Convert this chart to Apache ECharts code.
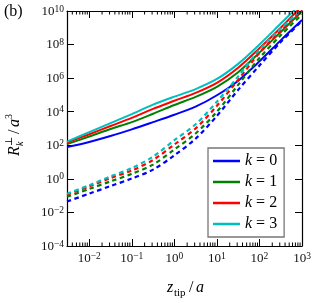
<!DOCTYPE html>
<html><head><meta charset="utf-8">
<script src="https://cdn.jsdelivr.net/npm/echarts@6/dist/echarts.min.js"></script>
<style>html,body{margin:0;padding:0;background:#fff}#c{width:320px;height:303px}</style>
</head><body><div id="c"></div>
<script>
const F = "'Liberation Serif','DejaVu Serif',serif";
// x values (z_tip / a)
const zTip = [0.003, 0.01, 0.0316, 0.1, 0.316, 1, 3.16, 10, 31.6, 100, 316, 1000];
// solid curves
const k0Solid = [77.6, 158, 355, 891, 2400, 6610, 20000, 95500, 708000, 1e7, 1.78e8, 2.88e9];
const k1Solid = [117, 331, 933, 2400, 7590, 25100, 75900, 302000, 2.24e6, 3.31e7, 5.62e8, 9.55e9];
const k2Solid = [145, 457, 1410, 4270, 14800, 44700, 132000, 525000, 4.17e6, 6.03e7, 1e9, 2.0e10];
const k3Solid = [166, 603, 2090, 7240, 26300, 79400, 224000, 891000, 7.08e6, 1e8, 1.78e9, 3.16e10];
// dashed curves
const k0Dashed = [0.0447, 0.132, 0.372, 1.05, 3.55, 25.1, 251, 5620, 200000, 5.62e6, 1.41e8, 2.51e9];
const k1Dashed = [0.0851, 0.251, 0.708, 2.0, 7.08, 56.2, 501, 10000, 398000, 1.58e7, 3.55e8, 6.31e9];
const k2Dashed = [0.112, 0.355, 1.12, 3.16, 13.2, 112, 1000, 22400, 794000, 3.16e7, 6.31e8, 1.12e10];
const k3Dashed = [0.129, 0.417, 1.41, 4.37, 20.9, 200, 1780, 39800, 1.26e6, 5.01e7, 8.91e8, 1.26e10];
const names = ['k = 0', 'k = 1', 'k = 2', 'k = 3'];
const colors = ['#0000ff', '#008000', '#ff0000', '#00bfbf'];
const xMin = 0.003, xMax = 1000, yMin = 1e-4, yMax = 1e10;

const minorTicks = [];
for (let n = -3; n <= 2; n++) for (let m = 2; m <= 9; m++) {
  const v = m * Math.pow(10, n);
  if (v > xMin && v < xMax) minorTicks.push([v, 1]);
}

function pow10Label(v) {
  const e = Math.log10(v);
  const r = Math.round(e);
  if (Math.abs(e - r) > 1e-6) return '';
  return '{b|10}{s|' + (r < 0 ? '\u2212' + (-r) : r) + '}';
}
const labRich = {
  b: {fontSize: 13, fontFamily: F, color: '#111', lineHeight: 14, verticalAlign: 'bottom'},
  s: {fontSize: 9.5, fontFamily: F, color: '#111', lineHeight: 10, verticalAlign: 'top', padding: [0, 0, 9, 0]}
};

function mk(data) { return zTip.map((x, i) => [x, data[i]]); }
const solid = [k0Solid, k1Solid, k2Solid, k3Solid];
const dashed = [k0Dashed, k1Dashed, k2Dashed, k3Dashed];
const series = [];
dashed.forEach((d, i) => series.push({
  type: 'line', name: names[i] + ' dashed', data: mk(d), symbol: 'none', smooth: 0.3,
  lineStyle: {color: colors[i], width: 2.2, type: [4.5, 3.5]}, z: 3
}));
solid.forEach((d, i) => series.push({
  type: 'line', name: names[i], data: mk(d), symbol: 'none', smooth: 0.3,
  lineStyle: {color: colors[i], width: 2}, itemStyle: {color: colors[i]}, z: 2
}));
series.push({
  type: 'custom', data: minorTicks, silent: true, clip: false, z: 5,
  renderItem: function (params, api) {
    const v = api.value(0);
    const pb = api.coord([v, yMin]);
    const pt = api.coord([v, yMax]);
    return {type: 'group', children: [
      {type: 'line', shape: {x1: pb[0], y1: pb[1], x2: pb[0], y2: pb[1] - 3.5}, style: {stroke: '#000', lineWidth: 1}},
      {type: 'line', shape: {x1: pt[0], y1: pt[1], x2: pt[0], y2: pt[1] + 3.5}, style: {stroke: '#000', lineWidth: 1}}
    ]};
  }
});

const axLine = {show: true, lineStyle: {color: '#000', width: 1.2}};
const chart = echarts.init(document.getElementById('c'), null, {renderer: 'canvas'});
const T = (text, x, y, font) => ({type: 'text', x: x, y: y, style: {text: text, font: font, fill: '#000', verticalAlign: 'middle'}});
chart.setOption({
  animation: false,
  backgroundColor: '#fff',
  grid: {left: 67, top: 11, width: 235, height: 235, containLabel: false},
  xAxis: [
    {type: 'log', min: xMin, max: xMax, position: 'bottom', axisLine: axLine,
     axisTick: {inside: true, length: 7, lineStyle: {color: '#000', width: 1}},
     axisLabel: {formatter: pow10Label, rich: labRich, margin: 5, showMinLabel: true},
     splitLine: {show: false}},
    {type: 'log', min: xMin, max: xMax, position: 'top', axisLine: axLine,
     axisTick: {inside: true, length: 7, lineStyle: {color: '#000', width: 1}},
     axisLabel: {show: false}, splitLine: {show: false}}
  ],
  yAxis: [
    {type: 'log', min: yMin, max: yMax, interval: 2, position: 'left', axisLine: axLine,
     axisTick: {inside: true, length: 7, lineStyle: {color: '#000', width: 1}},
     axisLabel: {formatter: pow10Label, rich: labRich, margin: 3},
     splitLine: {show: false}},
    {type: 'log', min: yMin, max: yMax, interval: 2, position: 'right', axisLine: axLine,
     axisTick: {inside: true, length: 7, lineStyle: {color: '#000', width: 1}},
     axisLabel: {show: false}, splitLine: {show: false}}
  ],
  legend: {
    data: names, orient: 'vertical', left: 208, top: 148,
    icon: 'rect', itemWidth: 27, itemHeight: 2.5, itemGap: 5,
    padding: [5, 7, 5, 5],
    backgroundColor: '#fff', borderColor: '#777', borderWidth: 1.3, borderRadius: 0,
    formatter: function (n) { return '{i|k}{n|' + n.slice(1) + '}'; },
    textStyle: {rich: {
      i: {fontFamily: F, fontStyle: 'italic', fontSize: 16, lineHeight: 15, color: '#000'},
      n: {fontFamily: F, fontSize: 16, lineHeight: 15, color: '#000'}
    }}
  },
  graphic: [
    {type: 'text', left: 4, top: 4, style: {text: '(b)', font: '16px ' + F, fill: '#000'}},
    {type: 'group', x: 167, y: 288, children: [
      T('z', 0, 0, 'italic 16px ' + F),
      T('tip', 7, 5, '11px ' + F),
      T('/', 22, 0, '16px ' + F),
      T('a', 29, 0, 'italic 16px ' + F)
    ]},
    {type: 'group', x: 15, y: 128, rotation: Math.PI / 2, children: [
      T('R', -28, 0, 'italic 16px ' + F),
      T('\u22A5', -18, -6, '10px ' + F),
      T('k', -18, 5, 'italic 10px ' + F),
      T('/', -6, 0, '16px ' + F),
      T('a', 1, 0, 'italic 16px ' + F),
      T('3', 9, -6, '10px ' + F)
    ]}
  ],
  series: series
});
</script></body></html>
